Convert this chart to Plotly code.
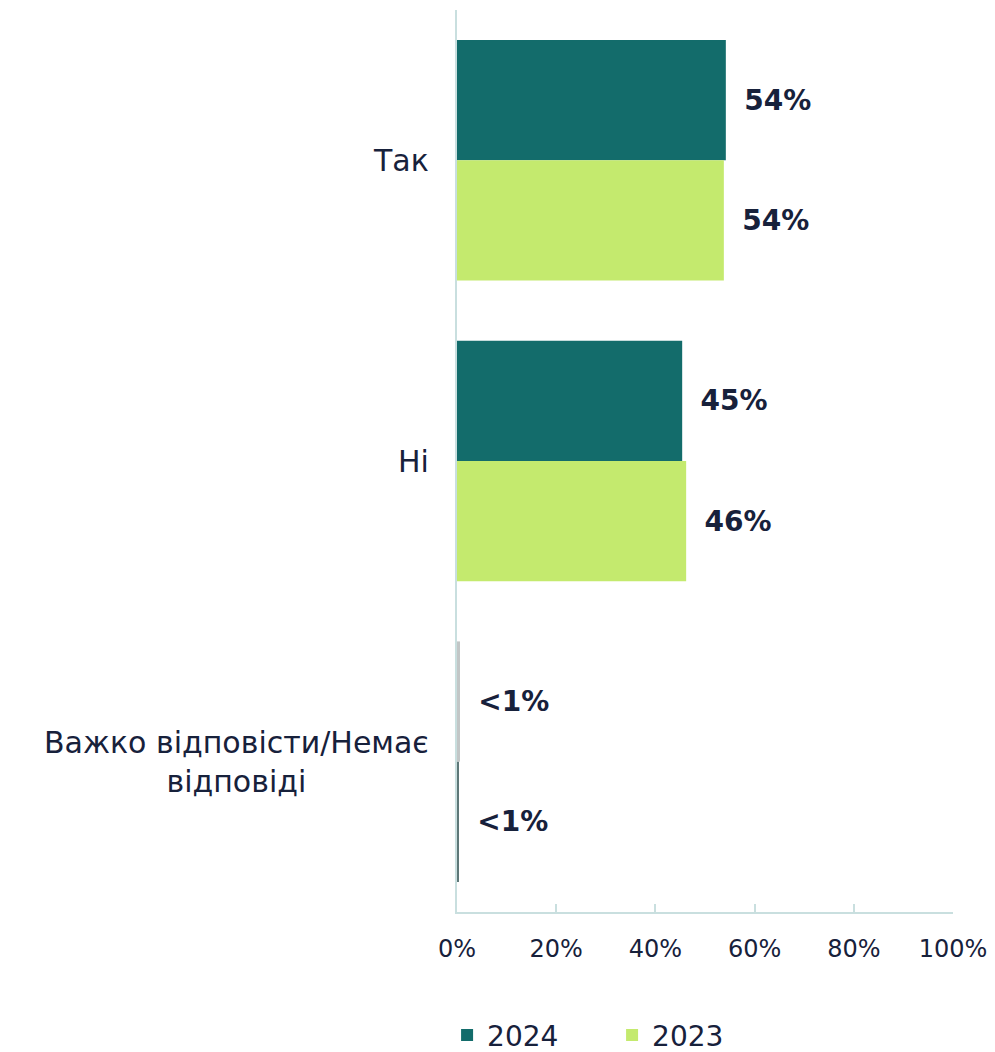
import plotly.graph_objects as go

categories = ["Так", "Ні", "Важко відповісти/Немає<br>відповіді"]
series_names = ["2024", "2023"]
values_2024 = [54.2, 45.4, 0.6]
values_2023 = [53.8, 46.2, 0.3]
tick_vals = [0, 20, 40, 60, 80, 100]
tick_text = ["0%", "20%", "40%", "60%", "80%", "100%"]

colors = {"2024": "#136C6B", "2023": "#C4EA6E"}
small_colors = {"2024": "#C2C6C6", "2023": "#5E7878"}
text_color = "#17213B"
font_family = "DejaVu Sans, Open Sans, sans-serif"


def fmt(v):
    pad = "\u00a0\u2009"
    return pad + ("<1%" if v < 1 else f"{round(v)}%")


fig = go.Figure()
for name, vals in zip(series_names, [values_2024, values_2023]):
    bar_colors = [small_colors[name] if v < 1 else colors[name] for v in vals]
    fig.add_trace(go.Bar(
        name=name,
        y=categories,
        x=vals,
        orientation="h",
        marker=dict(color=bar_colors, line=dict(width=0)),
        text=[fmt(v) for v in vals],
        textposition="outside",
        textfont=dict(family=font_family, size=28, color=text_color, weight="bold"),
        cliponaxis=False,
        hoverinfo="skip",
    ))

for c in categories:
    fig.add_annotation(
        x=0, y=c, xref="x", yref="y",
        text=c, showarrow=False,
        xanchor="right", yanchor="middle", xshift=-26,
        align="center",
        font=dict(family=font_family, size=30, color=text_color),
    )

fig.update_layout(
    width=987, height=1044,
    margin=dict(l=449, r=42, t=2, b=140, autoexpand=False),
    barmode="group",
    bargap=0.2,
    bargroupgap=0,
    plot_bgcolor="white",
    paper_bgcolor="white",
    font=dict(family=font_family, color=text_color),
    showlegend=True,
    legend=dict(
        orientation="h",
        x=-0.02, xanchor="left",
        yref="container",
        y=0.016, yanchor="middle",
        font=dict(family=font_family, size=28, color=text_color),
        traceorder="normal",
        entrywidth=120,
    ),
)
fig.update_xaxes(
    range=[0, 100],
    tickvals=tick_vals,
    ticktext=tick_text,
    showgrid=False,
    zeroline=False,
    showline=True,
    linecolor="#C9DFDF",
    linewidth=2,
    ticks="inside",
    tickcolor="#C9DFDF",
    ticklen=8,
    tickwidth=2,
    tickfont=dict(family=font_family, size=24, color=text_color),
    ticklabelstandoff=14,
    automargin=False,
)
fig.update_yaxes(
    autorange="reversed",
    showgrid=False,
    zeroline=False,
    showline=True,
    linecolor="#C9DFDF",
    linewidth=2,
    showticklabels=False,
    ticks="",
    automargin=False,
)

fig.write_html("out.html")
